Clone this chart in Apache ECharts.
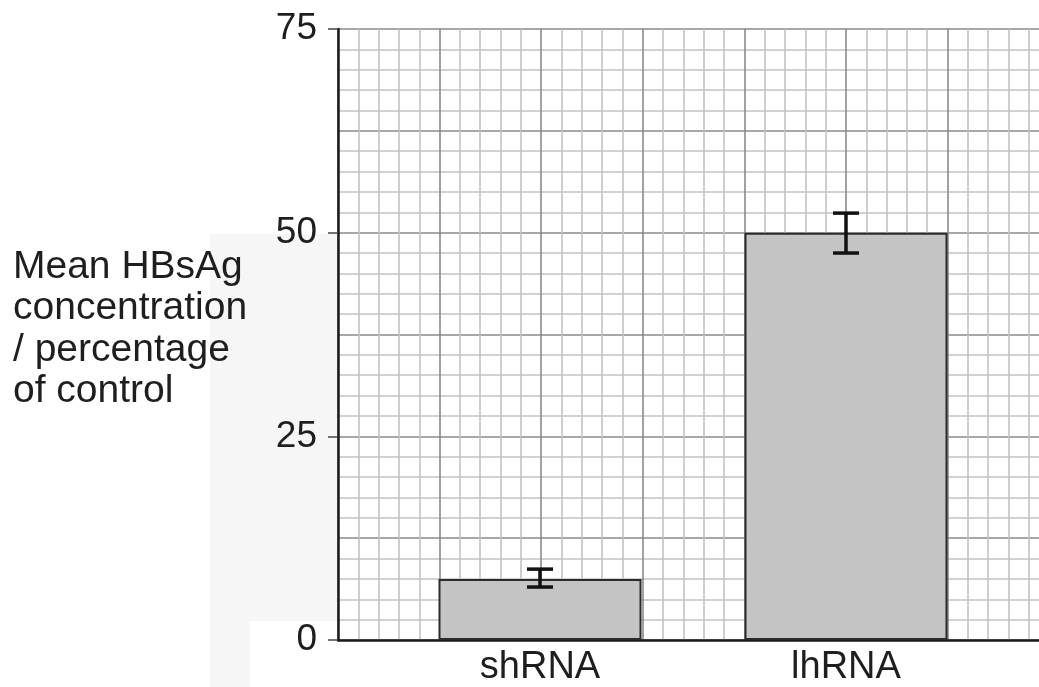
<!DOCTYPE html>
<html>
<head>
<meta charset="utf-8">
<script src="https://cdn.jsdelivr.net/npm/echarts@6/dist/echarts.min.js"></script>
<style>
html,body{margin:0;padding:0;background:#fff;}
#c{width:1039px;height:687px;}
</style>
</head>
<body>
<div id="c"></div>
<script>
const categories = ['shRNA', 'lhRNA'];
const means = [7.5, 50];
const errLow = [6.5, 47.5];
const errHigh = [8.7, 52.4];
const yTickLabels = [0, 25, 50, 75];
const yAxisName = ['Mean HBsAg', 'concentration', '/ percentage', 'of control'];

const FONT = '"Liberation Sans", Arial, sans-serif';
const chart = echarts.init(document.getElementById('c'), null, {renderer: 'canvas'});

const errData = categories.map((c, i) => [i, errLow[i], errHigh[i]]);

chart.setOption({
  backgroundColor: '#ffffff',
  animation: false,
  graphic: [
    {type: 'rect', left: 210, top: 234, shape: {width: 128, height: 453}, style: {fill: '#f6f6f6'}, z: -10, silent: true},
    {type: 'rect', left: 250, top: 621, shape: {width: 88, height: 66}, style: {fill: '#ffffff'}, z: -9, silent: true},
    {type: 'text', left: 13, top: 246, style: {text: yAxisName.join('\n'), font: '39px ' + FONT, fill: '#1e1e1e', lineHeight: 41.5}}
  ],
  grid: [
    {left: 338, top: 29, bottom: 47, right: -3, containLabel: false, outerBoundsMode: 'none'},
    {left: 387, top: 29, bottom: 47, width: 612, containLabel: false, outerBoundsMode: 'none'}
  ],
  xAxis: [
    {
      type: 'value', gridIndex: 0, min: 0, max: 6.93, interval: 1, position: 'bottom',
      axisLabel: {show: false}, axisTick: {show: false},
      axisLine: {show: true, onZero: false, lineStyle: {color: '#1a1a1a', width: 2.5}},
      splitLine: {show: true, lineStyle: {color: '#8a8a8a', width: 1.6}},
      minorTick: {show: false, splitNumber: 5},
      minorSplitLine: {show: true, lineStyle: {color: '#c2c2c2', width: 1.6}}
    },
    {
      type: 'category', gridIndex: 1, data: categories, position: 'bottom',
      axisLine: {show: false}, axisTick: {show: false},
      axisLabel: {fontSize: 38, fontFamily: FONT, color: '#1e1e1e', margin: 9},
      splitLine: {show: false}
    }
  ],
  yAxis: [
    {
      type: 'value', gridIndex: 0, min: 0, max: 75, interval: 12.5, position: 'left',
      axisLabel: {show: false}, axisTick: {show: false}, axisLine: {show: false},
      splitLine: {show: true, lineStyle: {color: '#8a8a8a', width: 1.6}},
      minorTick: {show: false, splitNumber: 5},
      minorSplitLine: {show: true, lineStyle: {color: '#c2c2c2', width: 1.6}}
    },
    {
      type: 'value', gridIndex: 0, min: 0, max: 75, interval: 25, position: 'left', offset: 0,
      axisLine: {show: true, onZero: false, lineStyle: {color: '#1a1a1a', width: 2.5}},
      axisTick: {show: true, length: 10, lineStyle: {color: '#444', width: 1.5}},
      axisLabel: {fontSize: 37, fontFamily: FONT, color: '#1e1e1e', margin: 21,
        formatter: v => (yTickLabels.indexOf(v) >= 0 ? String(v) : '')},
      splitLine: {show: false}
    },
    {type: 'value', gridIndex: 1, min: 0, max: 75, show: false}
  ],
  series: [
    {
      type: 'bar', xAxisIndex: 1, yAxisIndex: 2, data: means, barWidth: 203,
      itemStyle: {color: '#c4c4c4', borderColor: '#2b2b2b', borderWidth: 2},
      z: 3
    },
    {
      type: 'custom', xAxisIndex: 1, yAxisIndex: 2, data: errData, z: 5,
      renderItem: function (params, api) {
        const x = api.value(0);
        const lo = api.coord([x, api.value(1)]);
        const hi = api.coord([x, api.value(2)]);
        const hw = 13;
        const st = {stroke: '#111', lineWidth: 3.5};
        return {
          type: 'group',
          children: [
            {type: 'line', shape: {x1: lo[0], y1: lo[1], x2: hi[0], y2: hi[1]}, style: st},
            {type: 'line', shape: {x1: lo[0] - hw, y1: lo[1], x2: lo[0] + hw, y2: lo[1]}, style: st},
            {type: 'line', shape: {x1: hi[0] - hw, y1: hi[1], x2: hi[0] + hw, y2: hi[1]}, style: st}
          ]
        };
      }
    }
  ]
});
</script>
</body>
</html>
